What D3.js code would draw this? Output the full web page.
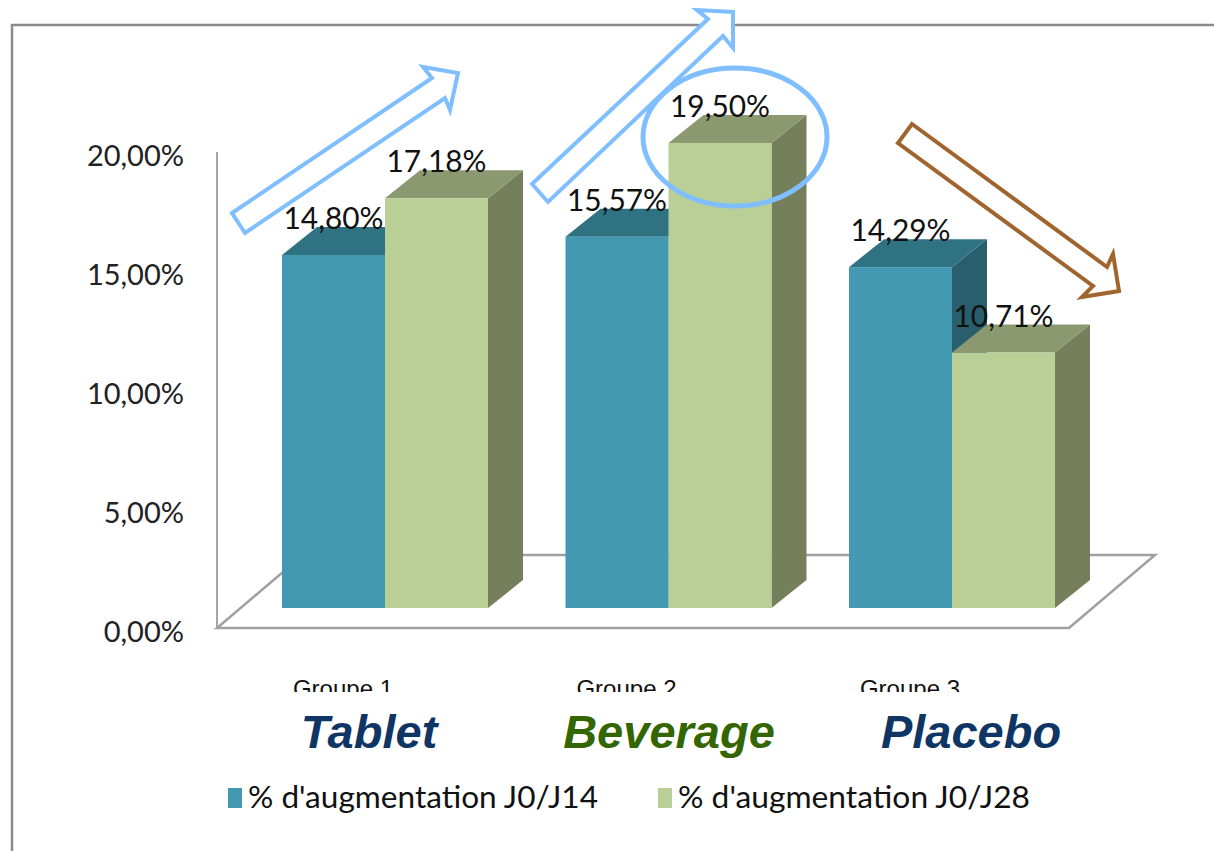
<!DOCTYPE html>
<html><head><meta charset="utf-8">
<script src="https://cdn.jsdelivr.net/npm/d3@7"></script>
<style>body{margin:0;background:#fff}svg{display:block}</style>
</head><body><svg id="c" width="1214" height="851"></svg>
<script>
const groups = ["Groupe 1", "Groupe 2", "Groupe 3"];
const groupNames = ["Tablet", "Beverage", "Placebo"];
const seriesNames = ["% d'augmentation J0/J14", "% d'augmentation J0/J28"];
const j14 = [0.1480, 0.1557, 0.1429];
const j28 = [0.1718, 0.1950, 0.1071];
const yTicks = [0, 0.05, 0.10, 0.15, 0.20];

const series = [j14, j28];
const fr = d3.formatLocale({decimal: ",", thousands: " ", grouping: [3], currency: ["", " €"], percent: "%"});
const pct = fr.format(".2%");

const styles = {
  face: [
    {front: "#4399b1", top: "#2f7282", side: "#295e6c"},
    {front: "#b9cf96", top: "#8b9870", side: "#767f5c"}
  ],
  nameColor: ["#0f3565", "#336600", "#0f3565"],
  arrowBlue: "#80bfff",
  arrowBrown: "#a0652e"
};

const svg = d3.select("#c");
const depth = {dx: 35, dy: -28};

const xc = d3.scalePoint().domain(groups).range([385, 952]);
const xs = d3.scaleBand().domain([0, 1]).range([-103, 103]).padding(0);
const y = d3.scaleLinear().domain([0, 0.20]).range([608, 131]);
const yAxisScale = d3.scaleLinear().domain([0, 0.20]).range([628, 152]);

// frame
svg.append("path").attr("d", "M12,851 L12,25 L1214,25").attr("fill", "none").attr("stroke", "#8a8a8a").attr("stroke-width", 2.5);

// back wall line
svg.append("line").attr("x1", 217).attr("x2", 217).attr("y1", yAxisScale(0.2)).attr("y2", yAxisScale(0))
  .attr("stroke", "#a6a6a6").attr("stroke-width", 2);

// floor
const fdx = 86, fdy = -73;
svg.append("path").attr("d", `M217,628 L1069,628 L${1069+fdx},${628+fdy} L${217+fdx},${628+fdy} Z`)
  .attr("fill", "#fff").attr("stroke", "#a0a0a0").attr("stroke-width", 2.5);

// y axis labels
const axis = d3.axisLeft(yAxisScale).tickValues(yTicks).tickFormat(pct).tickSize(0).tickPadding(0);
const ag = svg.append("g").attr("transform", "translate(184,4)").call(axis);
ag.select(".domain").remove();
ag.selectAll("text").attr("font-family", "Lato, 'Open Sans', sans-serif").attr("font-size", 29).attr("fill", "#222");

// arrows (outline block arrows)
function arrow(pts, color) {
  svg.append("polygon").attr("points", pts.map(p => p.join(",")).join(" "))
    .attr("fill", "#fff").attr("stroke", color).attr("stroke-width", 4).attr("stroke-linejoin", "miter");
}
arrow([[232,213],[432,78],[423,67],[458,73],[450,110],[445,98],[245,233]], styles.arrowBlue);
arrow([[532,184],[708,19],[697,10],[733,12],[733,48],[723,36],[548,202]], styles.arrowBlue);
arrow([[912,124],[1107,267],[1113,254],[1119,291],[1082,297],[1093,286],[898,143]], styles.arrowBrown);

// bars
groups.forEach((g, gi) => {
  series.forEach((s, si) => {
    const v = s[gi];
    const x0 = xc(g) + xs(si), w = xs.bandwidth();
    const yt = y(v), yb = y(0);
    const st = styles.face[si];
    const bg = svg.append("g");
    bg.append("polygon").attr("points", `${x0+w},${yt} ${x0+w+depth.dx},${yt+depth.dy} ${x0+w+depth.dx},${yb+depth.dy} ${x0+w},${yb}`).attr("fill", st.side);
    bg.append("polygon").attr("points", `${x0},${yt} ${x0+depth.dx},${yt+depth.dy} ${x0+w+depth.dx},${yt+depth.dy} ${x0+w},${yt}`).attr("fill", st.top);
    bg.append("rect").attr("x", x0).attr("y", yt).attr("width", w).attr("height", yb - yt).attr("fill", st.front);
  });
});

// data labels
groups.forEach((g, gi) => {
  series.forEach((s, si) => {
    const v = s[gi];
    svg.append("text").attr("x", xc(g) + xs(si) + xs.bandwidth() / 2).attr("y", y(v) - 26)
      .attr("text-anchor", "middle").attr("font-family", "Lato, 'Open Sans', sans-serif").attr("font-size", 30)
      .attr("textLength", 100).attr("lengthAdjust", "spacingAndGlyphs").attr("fill", "#111").text(pct(v));
  });
});

// highlight ellipse
svg.append("ellipse").attr("cx", 735).attr("cy", 137).attr("rx", 92).attr("ry", 69)
  .attr("fill", "none").attr("stroke", styles.arrowBlue).attr("stroke-width", 5);

// category labels (clipped)
svg.append("clipPath").attr("id", "clipCat").append("rect").attr("x", 0).attr("y", 660).attr("width", 1214).attr("height", 32);
const cg = svg.append("g").attr("clip-path", "url(#clipCat)");
groups.forEach(g => {
  cg.append("text").attr("x", xc(g) - 42).attr("y", 697).attr("text-anchor", "middle")
    .attr("font-family", "'Liberation Sans', Arial, sans-serif").attr("font-size", 24).attr("fill", "#111").text(g);
});

// group names
groupNames.forEach((n, i) => {
  const cx = [369, 669, 971][i];
  svg.append("text").attr("x", cx).attr("y", 748).attr("text-anchor", "middle")
    .attr("font-family", "'Liberation Sans', Arial, sans-serif").attr("font-weight", "bold").attr("font-style", "italic")
    .attr("font-size", 47).attr("fill", styles.nameColor[i]).text(n);
});

// legend
const legX = [228, 658], legW = [350, 352];
seriesNames.forEach((n, i) => {
  svg.append("rect").attr("x", legX[i]).attr("y", 788).attr("width", 14).attr("height", 20).attr("fill", styles.face[i].front);
  svg.append("text").attr("x", legX[i] + 20).attr("y", 808).attr("font-family", "Lato, 'Open Sans', sans-serif")
    .attr("font-size", 30).attr("textLength", legW[i]).attr("lengthAdjust", "spacingAndGlyphs").attr("fill", "#111").text(n);
});
</script></body></html>
